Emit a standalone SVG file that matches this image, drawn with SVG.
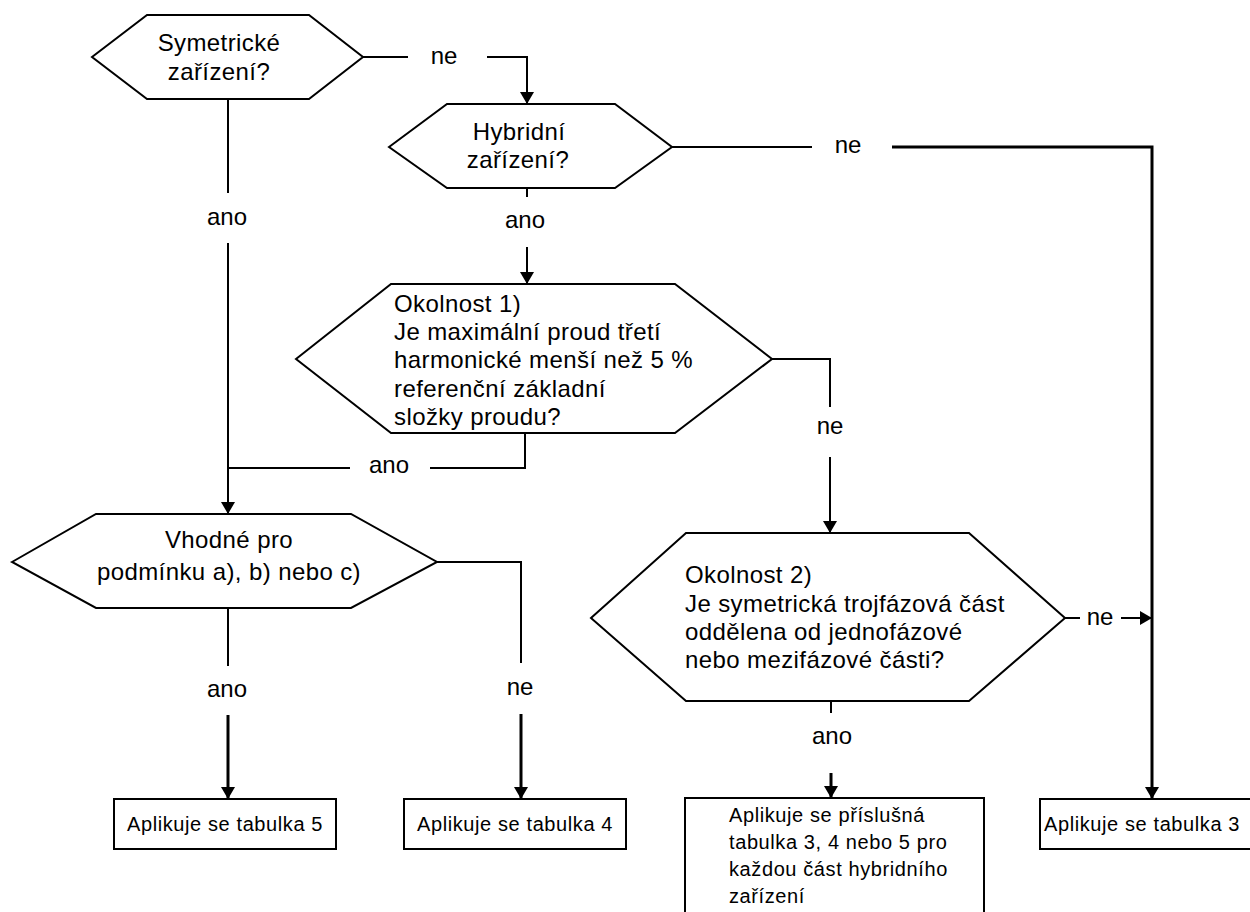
<svg xmlns="http://www.w3.org/2000/svg" width="1250" height="912" viewBox="0 0 1250 912">
<style>
  .shape { fill: #fff; stroke: #000; stroke-width: 2; stroke-linejoin: miter; }
  .t { font-family: "Liberation Sans", Arial, sans-serif; font-size: 24px; fill: #000; letter-spacing: 0.4px; }
  .c { text-anchor: middle; }
  .bt { font-family: "Liberation Sans", Arial, sans-serif; font-size: 20px; fill: #000; letter-spacing: 0.6px; }
  .ln { fill: none; stroke: #000; stroke-width: 2; }
  .ln3 { fill: none; stroke: #000; stroke-width: 3; }
  .lbl { font-family: "Liberation Sans", Arial, sans-serif; font-size: 24px; fill: #000; text-anchor: middle; }
</style>
<defs>
  <marker id="arr" viewBox="0 0 12 14" refX="12" refY="7" markerWidth="12" markerHeight="14" markerUnits="userSpaceOnUse" orient="auto">
    <path d="M0,0 L12,7 L0,14 z" fill="#000"/>
  </marker>
</defs>
<rect width="1250" height="912" fill="#fff"/>

<g id="connectors">
  <!-- hex1 ne -> hex2 -->
  <path class="ln" d="M363,57 L408,57"/>
  <text class="lbl" x="444" y="64">ne</text>
  <path class="ln" d="M487,57 L527,57 L527,104" marker-end="url(#arr)"/>
  <!-- hex2 ne -> box3 -->
  <path class="ln" d="M672,147 L812,147"/>
  <text class="lbl" x="848" y="153">ne</text>
  <path class="ln3" d="M892,147 L1152,147 L1152,799" marker-end="url(#arr)"/>
  <!-- hex2 ano -> hex3 -->
  <path class="ln" d="M527,188 L527,197"/>
  <text class="lbl" x="525" y="228">ano</text>
  <path class="ln" d="M527,247 L527,284" marker-end="url(#arr)"/>
  <!-- hex1 ano -> hex4 -->
  <path class="ln" d="M228,99 L228,193"/>
  <text class="lbl" x="227" y="225">ano</text>
  <path class="ln" d="M228,243 L228,514" marker-end="url(#arr)"/>
  <!-- hex3 ano -> join -->
  <path class="ln" d="M525,433 L525,468 L430,468"/>
  <text class="lbl" x="389" y="473">ano</text>
  <path class="ln" d="M350,468 L228,468"/>
  <!-- hex3 ne -> hex5 -->
  <path class="ln" d="M772,359 L830,359 L830,407"/>
  <text class="lbl" x="830" y="434">ne</text>
  <path class="ln" d="M830,457 L830,533" marker-end="url(#arr)"/>
  <!-- hex4 ne -> box4 -->
  <path class="ln" d="M437,562 L521,562 L521,663"/>
  <text class="lbl" x="520" y="695">ne</text>
  <path class="ln3" d="M521,714 L521,799" marker-end="url(#arr)"/>
  <!-- hex4 ano -> box5 -->
  <path class="ln" d="M228,608 L228,666"/>
  <text class="lbl" x="227" y="697">ano</text>
  <path class="ln3" d="M228,715 L228,799" marker-end="url(#arr)"/>
  <!-- hex5 ne -> right line -->
  <path class="ln" d="M1065,618 L1080,618"/>
  <text class="lbl" x="1100" y="625">ne</text>
  <path class="ln" d="M1121,618 L1152,618" marker-end="url(#arr)"/>
  <!-- hex5 ano -> big box -->
  <path class="ln" d="M831,701 L831,713"/>
  <text class="lbl" x="832" y="744">ano</text>
  <path class="ln3" d="M831,773 L831,798" marker-end="url(#arr)"/>
</g>

<g id="hex1">
  <polygon class="shape" points="92,57 147,15 309,15 363,57 309,99 147,99"/>
  <text class="t c" x="219" y="51">Symetrické</text>
  <text class="t c" x="219" y="80">zařízení?</text>
</g>

<g id="hex2">
  <polygon class="shape" points="389,147 447,104 615,104 672,147 615,188 447,188"/>
  <text class="t c" x="519" y="140">Hybridní</text>
  <text class="t c" x="518" y="168">zařízení?</text>
</g>

<g id="hex3">
  <polygon class="shape" points="296,359 391,284 675,284 772,359 675,433 391,433"/>
  <text class="t" x="394" y="312">Okolnost 1)</text>
  <text class="t" x="394" y="340">Je maximální proud třetí</text>
  <text class="t" x="394" y="368">harmonické menší než 5 %</text>
  <text class="t" x="394" y="397">referenční základní</text>
  <text class="t" x="394" y="425">složky proudu?</text>
</g>

<g id="hex4">
  <polygon class="shape" points="12,562 96,514 351,514 437,562 351,608 96,608"/>
  <text class="t c" x="229" y="548">Vhodné pro</text>
  <text class="t c" x="229" y="580">podmínku a), b) nebo c)</text>
</g>

<g id="hex5">
  <polygon class="shape" points="591,618 686,533 969,533 1065,618 969,701 686,701"/>
  <text class="t" x="685" y="583">Okolnost 2)</text>
  <text class="t" x="685" y="612">Je symetrická trojfázová část</text>
  <text class="t" x="685" y="640">oddělena od jednofázové</text>
  <text class="t" x="685" y="668">nebo mezifázové části?</text>
</g>

<g id="box5">
  <rect class="shape" x="114" y="799" width="222" height="50"/>
  <text class="bt" x="127" y="831">Aplikuje se tabulka 5</text>
</g>

<g id="box4">
  <rect class="shape" x="404" y="799" width="222" height="50"/>
  <text class="bt" x="417" y="831">Aplikuje se tabulka 4</text>
</g>

<g id="boxHybrid">
  <rect class="shape" x="685" y="798" width="299" height="130"/>
  <text class="bt" x="729" y="822">Aplikuje se příslušná</text>
  <text class="bt" x="729" y="849">tabulka 3, 4 nebo 5 pro</text>
  <text class="bt" x="729" y="876">každou část hybridního</text>
  <text class="bt" x="729" y="903">zařízení</text>
</g>

<g id="box3">
  <rect class="shape" x="1040" y="799" width="230" height="50"/>
  <text class="bt" x="1044" y="831">Aplikuje se tabulka 3</text>
</g>
</svg>
